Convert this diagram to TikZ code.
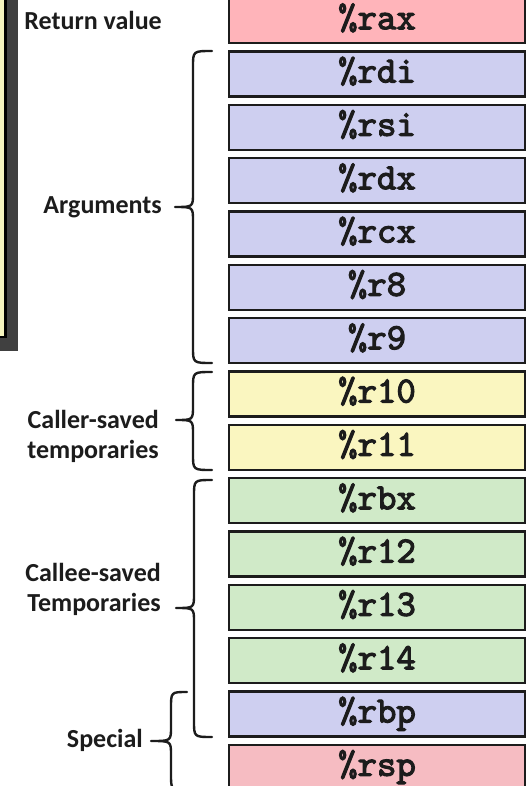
\documentclass[tikz,border=0pt]{standalone}
\usepackage{fontspec}
\setmainfont{Carlito}
\newfontfamily\regfont{lmmono10-regular.otf}[FakeBold=3]
\definecolor{pinkc}{RGB}{255,180,186}
\definecolor{pinkd}{RGB}{246,188,194}
\definecolor{bluec}{RGB}{206,207,240}
\definecolor{yelc}{RGB}{250,246,192}
\definecolor{greenc}{RGB}{208,234,200}
\definecolor{panely}{RGB}{245,244,190}
\definecolor{shadowg}{RGB}{64,64,64}
\definecolor{inkc}{RGB}{28,28,28}
\newcommand\mybrace[6]{% tip x, vertical x, cusp x, top y, mid y, bottom y
  \draw[bracel] (#1,#4) .. controls (#2,#4) .. (#2,#4+16) -- (#2,#5-14)
    .. controls (#2,#5) .. (#3,#5) .. controls (#2,#5) .. (#2,#5+14)
    -- (#2,#6-16) .. controls (#2,#6) .. (#1,#6);}
\begin{document}
\begin{tikzpicture}[x=1pt,y=-1pt,
  reg/.style={draw=inkc, line width=2.4pt, minimum width=296pt, minimum height=45pt,
    inner sep=0pt, text height=19pt, text depth=2pt,
    font=\regfont\fontsize{37}{37}\selectfont, text=inkc},
  lab/.style={inner sep=0pt, font=\bfseries\fontsize{26}{30}\selectfont, text=inkc},
  bracel/.style={draw=inkc, line width=2.4pt, line cap=round, line join=round}]
\useasboundingbox (0,0) rectangle (529,786);
\clip (0,0) rectangle (529,786);
\fill[white] (0,0) rectangle (529,786);
% left panel
\fill[shadowg] (-20,-20) rectangle (18,351);
\filldraw[fill=panely, draw=black, line width=2.6pt] (-30,-30) rectangle (5.5,337);
% register boxes
\node[reg, fill=pinkc]  (rax) at (377,20.7)  {\%rax};
\node[reg, fill=bluec]  (rdi) at (377,74.0)  {\%rdi};
\node[reg, fill=bluec]  (rsi) at (377,127.3) {\%rsi};
\node[reg, fill=bluec]  (rdx) at (377,180.7) {\%rdx};
\node[reg, fill=bluec]  (rcx) at (377,234.0) {\%rcx};
\node[reg, fill=bluec]  (r8)  at (377,287.3) {\%r8};
\node[reg, fill=bluec]  (r9)  at (377,340.7) {\%r9};
\node[reg, fill=yelc]   (r10) at (377,394.0) {\%r10};
\node[reg, fill=yelc]   (r11) at (377,447.3) {\%r11};
\node[reg, fill=greenc] (rbx) at (377,500.7) {\%rbx};
\node[reg, fill=greenc] (r12) at (377,554.0) {\%r12};
\node[reg, fill=greenc] (r13) at (377,607.3) {\%r13};
\node[reg, fill=greenc] (r14) at (377,660.7) {\%r14};
\node[reg, fill=bluec]  (rbp) at (377,714.0) {\%rbp};
\node[reg, fill=pinkd]  (rsp) at (377,767.3) {\%rsp};
% labels
\node[lab, anchor=east] (lret) at (162,20.7) {Return value};
\node[lab, anchor=east] (larg) at (162,207) {Arguments};
\node[lab, anchor=east, align=right] (lcaller) at (159,436) {Caller-saved\\temporaries};
\node[lab, anchor=east, align=right] (lcallee) at (161,589) {Callee-saved\\Temporaries};
\node[lab, anchor=east] (lspec) at (143,740) {Special};
% braces
\mybrace{212}{193}{175}{51}{207}{363}
\mybrace{212}{193}{176}{372}{420}{470}
\mybrace{212}{194}{176}{480}{608}{737}
\mybrace{187}{171}{151}{692}{741}{790}
\end{tikzpicture}
\end{document}
